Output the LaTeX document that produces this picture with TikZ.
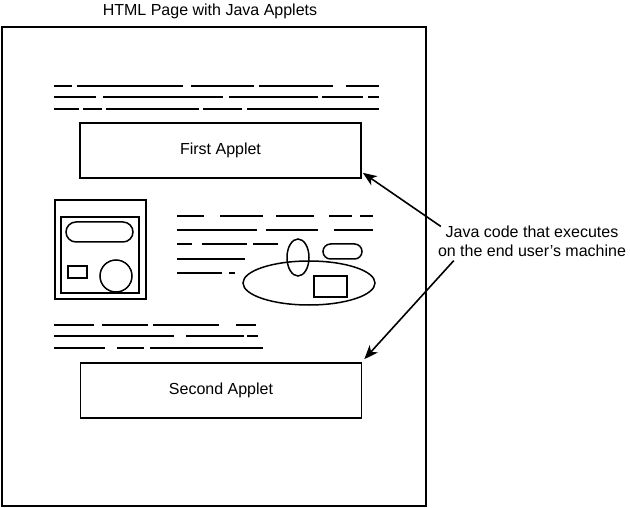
\documentclass[tikz,border=0pt]{standalone}
\usepackage{fontspec}
\setmainfont{Liberation Sans}
\usetikzlibrary{arrows.meta, positioning, calc}

\begin{document}
\begin{tikzpicture}[
      x=1pt, y=-1pt,
      font=\fontsize{16}{19}\selectfont,
      applet/.style={draw, line width=1.6pt, minimum width=281pt,
        minimum height=55pt, inner sep=0pt},
      txtline/.style={line width=1.6pt},
      shapeline/.style={line width=1.5pt},
      >={Stealth[length=14pt, width=11pt, inset=4pt]}
    ]
      \useasboundingbox (0,0) rectangle (630,508);
      % page and title
      \draw[line width=2.2pt] (2,27) rectangle (426,506);
      \node (title) at (210,11) {HTML Page with Java Applets};
      % text lines at the top
      \foreach \a/\b in {54/72, 77/183, 191/254, 259/333, 346/379}
        \draw[txtline] (\a,86) -- (\b,86);
      \foreach \a/\b in {54/96, 103/223, 229/318, 322/363, 368/379}
        \draw[txtline] (\a,97) -- (\b,97);
      \foreach \a/\b in {54/79, 83/102, 106/199, 203/242, 247/379}
        \draw[txtline] (\a,109) -- (\b,109);
      % applets
      \node[applet] (first) at (220.5,150.5) {First Applet};
      \node[applet] (second) at (221,390.5) {Second Applet};
      % picture of a small program
      \draw[shapeline] (55,200) rectangle (146,299);
      \draw[shapeline] (61,217) rectangle (139,293);
      \draw[shapeline, rounded corners=10pt] (66,222) rectangle (133,242);
      \draw[shapeline] (68,266) rectangle (87,278);
      \draw[shapeline] (116,276) circle[radius=16];
      % text beside it
      \foreach \a/\b in {177/204, 220/263, 276/314, 329/352, 360/373}
        \draw[txtline] (\a,216) -- (\b,216);
      \foreach \a/\b in {177/257, 266/318, 334/373}
        \draw[txtline] (\a,230) -- (\b,230);
      \foreach \a/\b in {177/192, 202/247, 253/278}
        \draw[txtline] (\a,244) -- (\b,244);
      \draw[txtline] (177,259) -- (245,259);
      \foreach \a/\b in {177/222, 229/235}
        \draw[txtline] (\a,273) -- (\b,273);
      % shapes
      \draw[shapeline] (298,257.5) ellipse[x radius=11, y radius=18.5];
      \draw[shapeline] (309,283) ellipse[x radius=66, y radius=22];
      \draw[shapeline, rounded corners=7.5pt] (323,244) rectangle (362,259);
      \draw[shapeline] (314,276) rectangle (347,297);
      % text lines at the bottom
      \foreach \a/\b in {54/94, 102/148, 153/219, 236/256}
        \draw[txtline] (\a,325) -- (\b,325);
      \foreach \a/\b in {54/174, 186/244, 247/258}
        \draw[txtline] (\a,336) -- (\b,336);
      \foreach \a/\b in {54/105, 117/144, 150/263}
        \draw[txtline] (\a,348) -- (\b,348);
      % note and arrows
      \node[align=center, inner sep=0pt] (javanote) at (532,241)
        {Java code that executes\\on the end user{\char"27}s machine};
      \draw[->, line width=1.6pt] ([xshift=3pt, yshift=-1pt]javanote.north west)
        -- ([xshift=1pt, yshift=6pt]first.south east);
      \draw[->, line width=1.6pt] ([xshift=16pt, yshift=-4pt]javanote.south west)
        -- ([xshift=2pt, yshift=3pt]second.north east);
    \end{tikzpicture}
\end{document}
